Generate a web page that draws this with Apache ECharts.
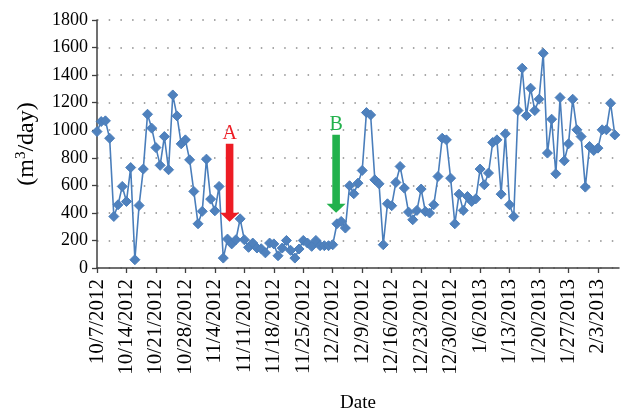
<!DOCTYPE html>
<html>
<head>
<meta charset="utf-8">
<script src="https://cdn.jsdelivr.net/npm/echarts@6/dist/echarts.min.js"></script>
<style>html,body{margin:0;padding:0;background:#fff;}#c{width:621px;height:413px;}</style>
</head>
<body>
<div id="c"></div>
<script>
// Daily flow values (m3/day), starting 10/7/2012
const startDate = [2012, 10, 7];
const values = [
  990, 1063, 1068, 942, 374, 459, 592, 483, 729, 60,
  454, 718, 1116, 1015, 874, 745, 954, 713, 1256, 1104,
  901, 930, 785, 556, 321, 411, 790, 500, 415, 592,
  72, 210, 175, 205, 357, 205, 150, 181, 145, 140,
  110, 181, 175, 89, 145, 200, 128, 72, 138, 200,
  181, 157, 200, 162, 162, 162, 169, 321, 338, 290,
  597, 539, 616, 708, 1128, 1111, 640, 611, 169, 466,
  452, 621, 737, 580, 406, 350, 418, 573, 410, 399,
  459, 664, 942, 930, 652, 321, 536, 418, 519, 483,
  502, 718, 604, 689, 911, 930, 536, 974, 459, 374,
  1143, 1450, 1106, 1305, 1143, 1225, 1559, 834, 1080, 684,
  1237, 778, 901, 1225, 1003, 954, 587, 882, 853, 870,
  1003, 1003, 1196, 966
];
const yTicks = [0, 200, 400, 600, 800, 1000, 1200, 1400, 1600, 1800];
const xTickDays = 7;
const arrows = [
  { name: 'A', day: 31.5, value: 618, color: '#ED1C24' },
  { name: 'B', day: 56.8, value: 684, color: '#22B14C' }
];

const serif = "'Liberation Serif', 'Times New Roman', serif";
function dayLabel(d) {
  const dt = new Date(startDate[0], startDate[1] - 1, startDate[2] + d);
  return (dt.getMonth() + 1) + '/' + dt.getDate() + '/' + dt.getFullYear();
}
const arrowPath = 'path://M6,0 L14,0 L14,69 L20,69 L10,78 L0,69 L6,69 Z';

const chart = echarts.init(document.getElementById('c'), null, { renderer: 'canvas' });
chart.setOption({
  animation: false,
  backgroundColor: '#ffffff',
  grid: { left: 97, right: 2, top: 20, bottom: 145, containLabel: false, outerBoundsMode: 'none' },
  xAxis: {
    type: 'value',
    min: 0,
    max: 124,
    interval: xTickDays,
    name: 'Date',
    nameLocation: 'middle',
    nameGap: 126,
    nameTextStyle: { fontFamily: serif, fontSize: 19, color: '#000' },
    axisLine: { show: true, lineStyle: { color: '#404040', width: 1.5 } },
    axisTick: { show: true, length: 5, lineStyle: { color: '#404040', width: 1.3 } },
    splitLine: { show: false },
    axisLabel: {
      rotate: 90,
      margin: 11,
      showMaxLabel: false,
      fontFamily: serif,
      fontSize: 21,
      color: '#000',
      formatter: function (v) { return dayLabel(v); }
    }
  },
  yAxis: {
    type: 'value',
    min: yTicks[0],
    max: yTicks[yTicks.length - 1],
    interval: yTicks[1] - yTicks[0],
    name: '(m{sup|3}/day)',
    nameLocation: 'middle',
    nameGap: 58,
    nameRotate: 90,
    nameTextStyle: {
      fontFamily: serif, fontSize: 24, color: '#000',
      rich: { sup: { fontFamily: serif, fontSize: 15, color: '#000', verticalAlign: 'top', padding: [0, 0, 10, 0] } }
    },
    axisLine: { show: true, lineStyle: { color: '#404040', width: 1.5 } },
    axisTick: { show: true, length: 5, lineStyle: { color: '#404040', width: 1.3 } },
    axisLabel: { fontFamily: serif, fontSize: 18, color: '#000', margin: 9, formatter: v => String(v) },
    splitLine: { show: true, lineStyle: { color: '#8a8a8a', width: 1.5, type: [1.5, 10.2] } }
  },
  series: [{
    type: 'line',
    data: values.map((v, i) => [i, v]),
    symbol: 'diamond',
    symbolSize: 10,
    showAllSymbol: true,
    lineStyle: { color: '#4A7EBB', width: 1.6 },
    itemStyle: { color: '#4F81BD', borderColor: '#4A7EBB', borderWidth: 1 },
    markPoint: {
      silent: true,
      data: arrows.map(a => ({
        coord: [a.day, a.value],
        symbol: arrowPath,
        symbolSize: [19, 78],
        symbolKeepAspect: false,
        itemStyle: { color: a.color },
        label: {
          show: true,
          position: 'top',
          distance: 0,
          formatter: a.name,
          color: a.color,
          fontFamily: serif,
          fontSize: 20
        }
      }))
    }
  }]
});
</script>
</body>
</html>
